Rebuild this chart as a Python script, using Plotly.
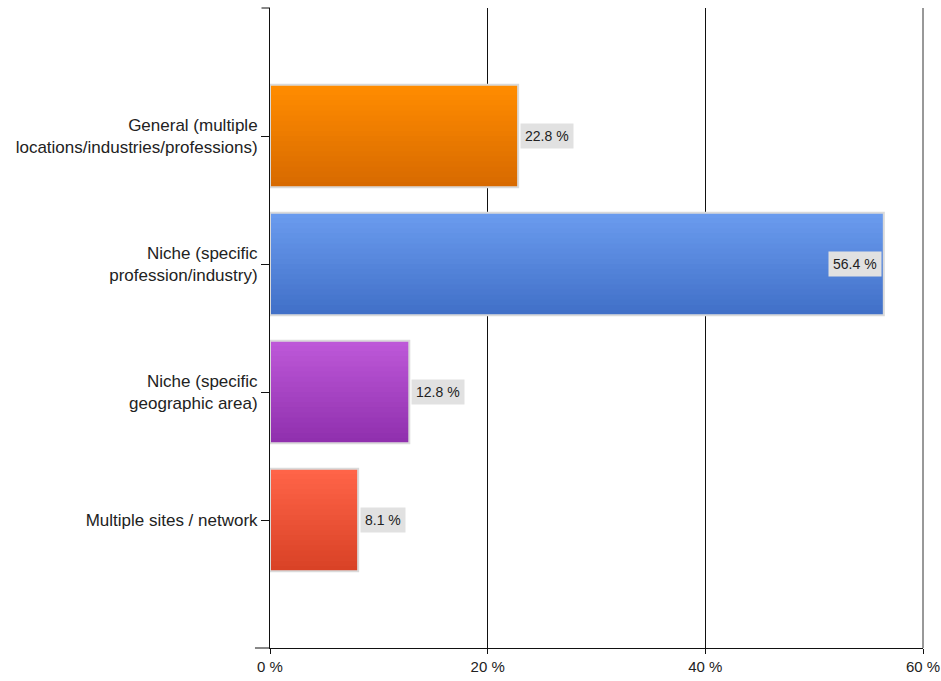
import plotly.graph_objects as go

categories = [
    "General (multiple<br>locations/industries/professions)",
    "Niche (specific<br>profession/industry)",
    "Niche (specific<br>geographic area)",
    "Multiple sites / network",
]
values = [22.8, 56.4, 12.8, 8.1]
top_colors = ["#FF8C00", "#6A9BEE", "#BD58D8", "#FF6448"]
bottom_colors = ["#D86A00", "#4170C8", "#9030AE", "#D94226"]
x_ticks = [0, 20, 40, 60]
x_tick_labels = ["0 %", "20 %", "40 %", "60 %"]


def hex_to_rgb(h):
    h = h.lstrip("#")
    return tuple(int(h[i:i + 2], 16) for i in (0, 2, 4))


def mix(c1, c2, t):
    a, b = hex_to_rgb(c1), hex_to_rgb(c2)
    return "rgb(%d,%d,%d)" % tuple(round(a[k] + (b[k] - a[k]) * t) for k in range(3))


fig = go.Figure()
bar_w = 0.8
n_slices = 20
slice_w = bar_w / n_slices
for i in range(n_slices):
    t = i / (n_slices - 1)
    fig.add_trace(go.Bar(
        x=values, y=categories, orientation="h",
        width=slice_w * 1.25 if i < n_slices - 1 else slice_w,
        offset=-bar_w / 2 + i * slice_w,
        marker=dict(color=[mix(a, b, t) for a, b in zip(top_colors, bottom_colors)], line=dict(width=0)),
        hoverinfo="skip", showlegend=False,
    ))
# border
fig.add_trace(go.Bar(
    x=values, y=categories, orientation="h", width=bar_w,
    marker=dict(color="rgba(0,0,0,0)", line=dict(color="#dadada", width=2)),
    hoverinfo="skip", showlegend=False,
))

annotations = []
for c, v in zip(categories, values):
    inside = v > 50
    annotations.append(dict(
        x=v, y=c, xref="x", yref="y", text=f"{v} %", showarrow=False,
        xanchor="right" if inside else "left", xshift=-2 if inside else 2,
        bgcolor="#e1e1e1", borderpad=4,
        font=dict(family="Liberation Sans", size=14, color="#222"),
    ))

fig.update_layout(
    width=941, height=681,
    margin=dict(l=270, r=18, t=8, b=33),
    paper_bgcolor="white", plot_bgcolor="white",
    barmode="overlay",
    annotations=annotations,
    xaxis=dict(
        range=[0, 60], tickvals=x_ticks, ticktext=x_tick_labels,
        automargin=False,
        showgrid=True, gridcolor="#111", gridwidth=1,
        showline=True, linecolor="#111", linewidth=1,
        ticks="outside", ticklen=5, tickcolor="#111",
        zeroline=False,
        tickfont=dict(family="Liberation Sans Narrow, Liberation Sans", size=15, color="#222"),
    ),
    yaxis=dict(
        range=[4, -1], type="category", automargin=False,
        showgrid=False, showline=True, linecolor="#111", linewidth=1,
        ticks="outside", ticklen=8, tickcolor="#111",
        tickfont=dict(family="Liberation Sans", size=17, color="#222"),
    ),
    shapes=[
        dict(type="line", xref="paper", yref="paper", x0=-0.013, x1=0, y0=1, y1=1,
             line=dict(color="#111", width=1)),
        dict(type="line", xref="paper", yref="paper", x0=-0.023, x1=0, y0=0, y1=0,
             line=dict(color="#111", width=1)),
        dict(type="line", xref="paper", yref="paper", x0=1, x1=1, y0=0, y1=1,
             line=dict(color="#333", width=1)),
    ],
)

fig.write_html("out.html", post_script="document.body.style.margin='0';",
               config={"displayModeBar": False})
